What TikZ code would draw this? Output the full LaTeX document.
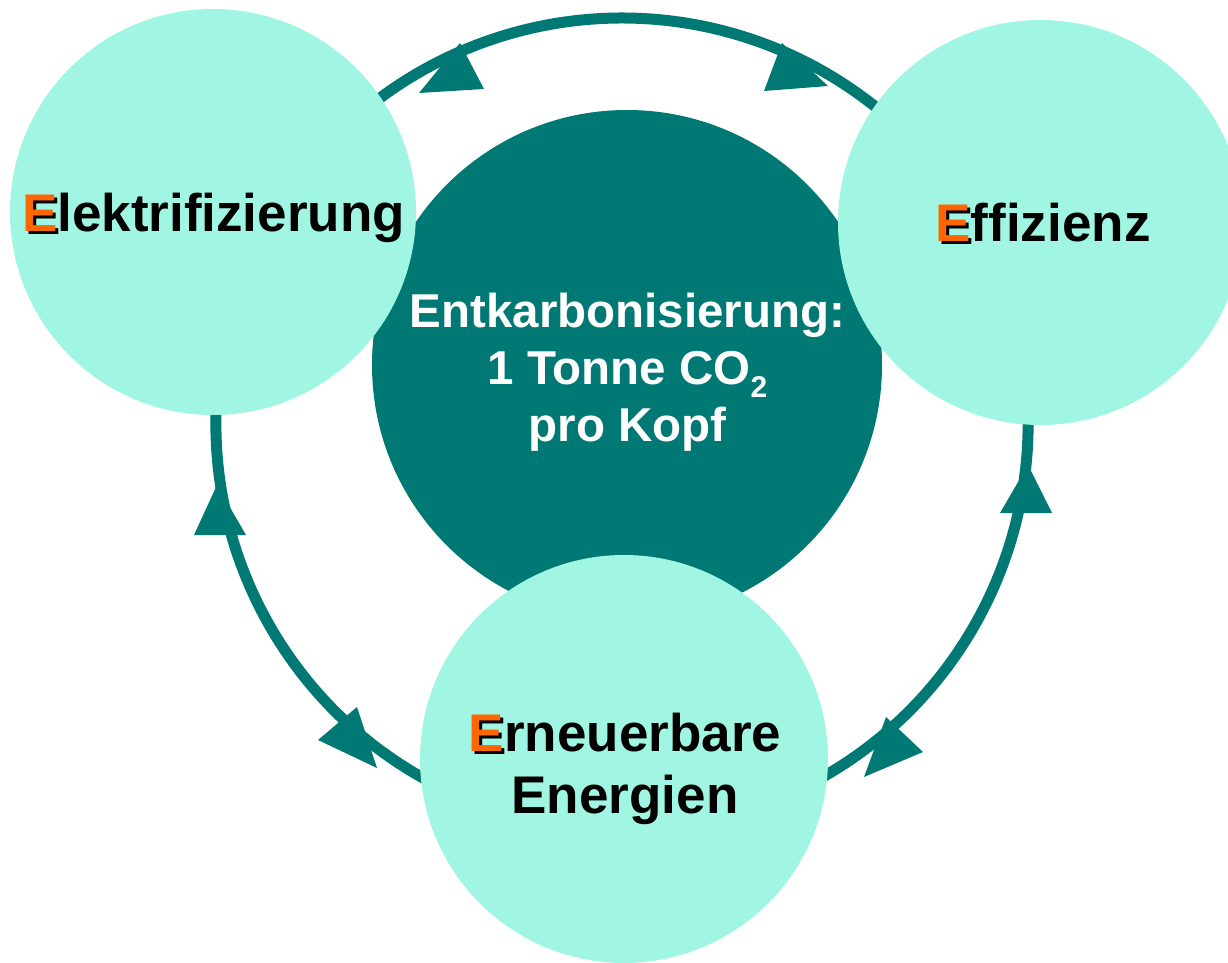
\documentclass[tikz,border=0pt]{standalone}
\usepackage{fontspec}
\setmainfont{Liberation Sans}
\definecolor{tealdark}{RGB}{0,120,115}
\definecolor{mint}{RGB}{160,246,226}
\definecolor{eorange}{RGB}{255,102,0}
\newcommand{\shE}{\leavevmode\rlap{\hspace{3pt}\raisebox{-3pt}{\color{black}E}}{\color{eorange}E}}
\tikzset{
  ringline/.style={draw=tealdark, line width=11pt},
  tip/.style={fill=tealdark},
  bubble/.style={circle, fill=mint, inner sep=0pt, minimum size=#1},
  core/.style={circle, fill=tealdark, inner sep=0pt, minimum size=510},
  lbl/.style={font=\fontsize{53}{62}\selectfont\bfseries, text=black, inner sep=0pt, anchor=base},
  corelbl/.style={font=\fontsize{47.5}{57}\selectfont\bfseries, text=white, inner sep=0pt, anchor=base}
}
\begin{document}
\begin{tikzpicture}[x=1pt,y=-1pt]
\useasboundingbox (0,0) rectangle (1228,963);
\clip (0,0) rectangle (1228,963);
\coordinate (ring) at (622,424);
% arcs of the cycle
\draw[ringline] (ring) ++(-140:406) coordinate (a1) arc[start angle=-140, end angle=-40, radius=406] coordinate (a2);
\draw[ringline] (ring) ++(-20:406) coordinate (b1) arc[start angle=-20, end angle=70, radius=406] coordinate (b2);
\draw[ringline] (ring) ++(110:406) coordinate (c1) arc[start angle=110, end angle=200, radius=406] coordinate (c2);
% arrowheads
\fill[tip] (419,93) -- (484,89) -- (460,43) -- cycle;
\fill[tip] (828,86) -- (764,91) -- (782,43) -- cycle;
\fill[tip] (217,485) -- (194,535) -- (246,535) -- cycle;
\fill[tip] (1028,465) -- (1000,513) -- (1052,513) -- cycle;
\fill[tip] (377,768) -- (318,740) -- (357,707) -- cycle;
\fill[tip] (864,777) -- (923,752) -- (886,717) -- cycle;
% circles
\node[core] (kern) at (627,365) {};
\node[bubble=408] (ern) at (624,759) {};
\node[bubble=406] (elek) at (213,212) {};
\node[bubble=405] (eff) at (1040.5,222.5) {};
% texts
\node[lbl] (telek) at (213.5,231) {\shE lektrifizierung};
\node[lbl] (teff) at (1043,241) {\shE ffizienz};
\node[lbl] (tern1) at (625,751) {\shE rneuerbare};
\node[lbl] (tern2) at (625,813) {Energien};
\node[corelbl] (tk1) at (627.5,327) {Entkarbonisierung:};
\node[corelbl] (tk2) at (627.5,384) {1 Tonne CO\raisebox{-13pt}{\fontsize{30}{30}\selectfont 2}};
\node[corelbl] (tk3) at (627.5,441.5) {pro Kopf};
\end{tikzpicture}
\end{document}
